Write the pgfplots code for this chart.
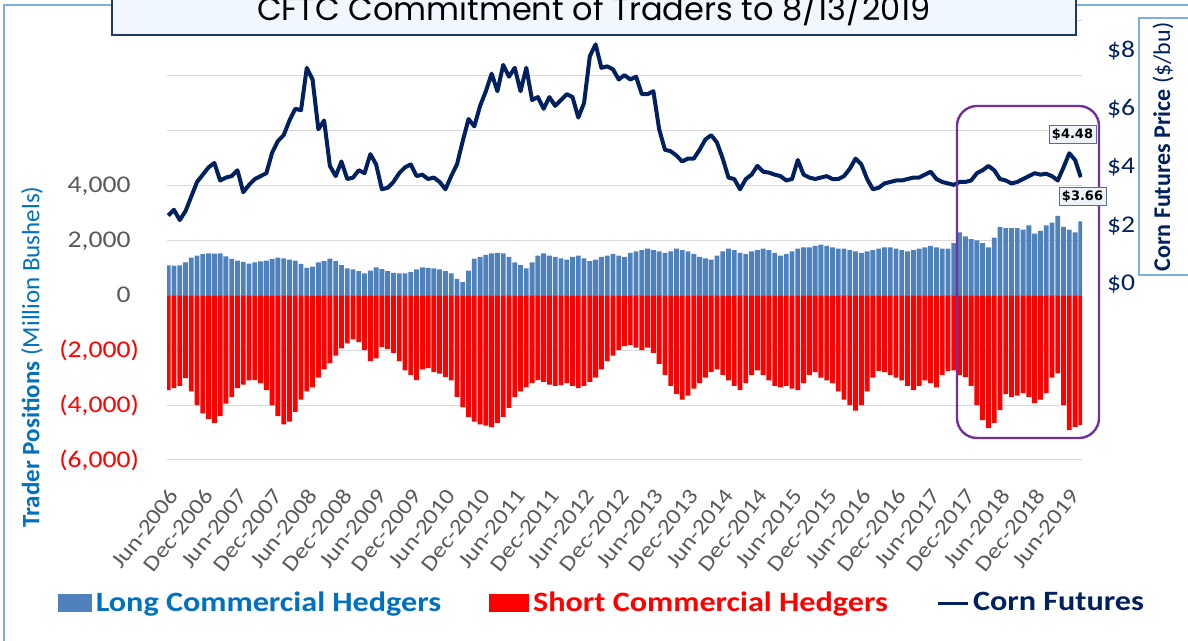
\documentclass[border=0pt]{standalone}
\usepackage{fontspec}
\usepackage{pgfplots}
\pgfplotsset{compat=1.18}
\usepackage{pgfplotstable}
\setmainfont{Carlito}[FakeStretch=1.15]
\newfontfamily\rotfont{Carlito}
\newfontfamily\titlefont{Poppins}
\newfontfamily\notefont{DejaVu Sans}
\definecolor{longblue}{HTML}{4F81BD}
\definecolor{shortred}{HTML}{FF0000}
\definecolor{cornnavy}{HTML}{002060}
\definecolor{legblue}{HTML}{0070C0}
\definecolor{ticgray}{HTML}{595959}
\definecolor{gridgray}{HTML}{D9D9D9}
\definecolor{framblue}{HTML}{7FAEDC}
\definecolor{boxpurple}{HTML}{7030A0}
\definecolor{titlefill}{HTML}{F0F7FF}
\definecolor{titledraw}{HTML}{1F3864}
\definecolor{notefill}{HTML}{EEF3FA}
\definecolor{notedraw}{HTML}{5A6E8C}

% m = months since Jun-2006; long/short in million bushels; price in $/bu
\pgfplotstableread{
m long short price
0 1090 -3450 2.35
1 1080 -3380 2.55
2 1090 -3300 2.20
3 1200 -3020 2.50
4 1380 -3500 3.00
5 1450 -4000 3.50
6 1500 -4300 3.75
7 1530 -4500 4.00
8 1520 -4650 4.15
9 1530 -4400 3.55
10 1420 -3950 3.65
11 1330 -3700 3.70
12 1270 -3380 3.90
13 1220 -3250 3.15
14 1160 -3100 3.40
15 1200 -3090 3.60
16 1240 -3200 3.70
17 1270 -3450 3.80
18 1330 -4000 4.50
19 1380 -4400 4.90
20 1350 -4700 5.10
21 1300 -4600 5.60
22 1270 -4250 6.00
23 1150 -3800 5.95
24 1000 -3500 7.40
25 1050 -3350 7.00
26 1200 -3000 5.30
27 1250 -2700 5.60
28 1340 -2470 4.05
29 1250 -2200 3.70
30 1100 -1930 4.20
31 980 -1750 3.60
32 950 -1600 3.65
33 880 -1700 3.90
34 800 -2000 3.80
35 900 -2400 4.45
36 1020 -2300 4.10
37 960 -1890 3.25
38 880 -1950 3.30
39 820 -2100 3.50
40 800 -2400 3.80
41 800 -2730 4.00
42 850 -2900 4.10
43 950 -3090 3.70
44 1020 -2700 3.75
45 1000 -2650 3.60
46 980 -2800 3.65
47 950 -2850 3.50
48 880 -2980 3.25
49 800 -3100 3.70
50 600 -3700 4.10
51 480 -4070 4.90
52 900 -4430 5.65
53 1340 -4600 5.40
54 1400 -4700 6.10
55 1480 -4750 6.60
56 1530 -4800 7.20
57 1550 -4650 6.60
58 1530 -4430 7.50
59 1400 -4100 7.10
60 1200 -3710 7.40
61 1100 -3500 6.60
62 980 -3350 7.40
63 1200 -3200 6.30
64 1450 -3090 6.40
65 1530 -3150 6.00
66 1450 -3250 6.40
67 1400 -3300 6.10
68 1350 -3270 6.30
69 1300 -3200 6.50
70 1400 -3300 6.40
71 1450 -3380 5.70
72 1350 -3300 6.20
73 1250 -3150 7.80
74 1300 -3000 8.20
75 1400 -2700 7.40
76 1450 -2400 7.45
77 1500 -2200 7.35
78 1450 -2000 7.00
79 1400 -1850 7.15
80 1550 -1800 7.00
81 1600 -1900 7.10
82 1650 -2000 6.50
83 1700 -1900 6.50
84 1650 -2100 6.60
85 1600 -2500 5.30
86 1550 -2900 4.60
87 1600 -3300 4.55
88 1700 -3600 4.40
89 1650 -3800 4.20
90 1600 -3650 4.30
91 1500 -3400 4.30
92 1400 -3200 4.60
93 1350 -3000 4.95
94 1300 -2800 5.10
95 1450 -2700 4.85
96 1600 -2900 4.30
97 1700 -3100 3.65
98 1650 -3300 3.60
99 1550 -3450 3.25
100 1500 -3200 3.60
101 1600 -2900 3.75
102 1650 -2730 4.05
103 1700 -2900 3.85
104 1650 -3100 3.82
105 1550 -3300 3.75
106 1450 -3350 3.70
107 1500 -3300 3.55
108 1600 -3400 3.60
109 1700 -3450 4.25
110 1750 -3200 3.75
111 1750 -2900 3.65
112 1800 -2800 3.60
113 1850 -3000 3.65
114 1800 -3100 3.70
115 1750 -3200 3.60
116 1700 -3500 3.60
117 1700 -3800 3.70
118 1650 -4000 3.95
119 1600 -4200 4.30
120 1550 -4000 4.10
121 1600 -3500 3.60
122 1650 -3000 3.25
123 1700 -2750 3.30
124 1750 -2800 3.45
125 1750 -2900 3.50
126 1700 -3000 3.55
127 1650 -3100 3.55
128 1600 -3300 3.60
129 1650 -3450 3.65
130 1700 -3300 3.65
131 1750 -3100 3.75
132 1800 -3200 3.85
133 1750 -3350 3.60
134 1700 -2900 3.50
135 1700 -2750 3.45
136 1900 -2730 3.40
137 2300 -2900 3.50
138 2150 -2980 3.50
139 2050 -3300 3.55
140 2000 -4000 3.80
141 1900 -4550 3.90
142 1750 -4840 4.05
143 2100 -4650 3.90
144 2500 -4180 3.60
145 2450 -3600 3.55
146 2450 -3700 3.45
147 2450 -3650 3.50
148 2400 -3560 3.60
149 2550 -3700 3.70
150 2250 -3930 3.80
151 2350 -3800 3.75
152 2550 -3560 3.78
153 2650 -3000 3.70
154 2900 -2840 3.55
155 2500 -4000 4.00
156 2400 -4910 4.48
157 2300 -4800 4.25
158 2700 -4730 3.66
}\cot

\begin{document}
\begin{tikzpicture}
\path[use as bounding box] (0,0) rectangle (594pt,320.5pt);
% outer chart frame (only the left and top edges are in view)
\draw[framblue, line width=1pt] (2pt,-5pt) -- (2pt,318pt) -- (60pt,318pt);
\draw[framblue, line width=1pt] (530pt,318pt) -- (600pt,318pt);

\begin{axis}[
  at={(83.5pt,90.5pt)}, anchor=south west,
  width=457.5pt, height=219.5pt, scale only axis,
  xmin=-0.2, xmax=158.2, ymin=-6000, ymax=10000,
  axis line style={draw=none},
  major tick length=0pt,
  ytick={-6000,-4000,...,10000},
  yticklabels={{\textcolor{shortred}{(6,000)}},{\textcolor{shortred}{(4,000)}},{\textcolor{shortred}{(2,000)}},{0\phantom{)}},{2,000\phantom{)}},{4,000\phantom{)}},{},{},{}},
  ymajorgrids, grid style={gridgray, line width=0.5pt},
  xtick={0,6,...,156},
  xticklabels={Jun-2006,Dec-2006,Jun-2007,Dec-2007,Jun-2008,Dec-2008,Jun-2009,Dec-2009,Jun-2010,Dec-2010,Jun-2011,Dec-2011,Jun-2012,Dec-2012,Jun-2013,Dec-2013,Jun-2014,Dec-2014,Jun-2015,Dec-2015,Jun-2016,Dec-2016,Jun-2017,Dec-2017,Jun-2018,Dec-2018,Jun-2019},
  xticklabel style={xshift=5pt, yshift=-13pt, rotate=52, anchor=east, text=ticgray, font=\fontsize{11}{12}\selectfont},
  yticklabel style={anchor=east, text width=45pt, align=right, xshift=-10.5pt, text=ticgray, font=\fontsize{12}{12}\selectfont},
]
\addplot[ybar, bar width=0.84, bar shift=0pt, fill=longblue, draw=none] table[x=m, y=long] {\cot};
\addplot[ybar, bar width=0.84, bar shift=0pt, fill=shortred, draw=none] table[x=m, y=short] {\cot};
\end{axis}

\begin{axis}[
  at={(83.5pt,90.5pt)}, anchor=south west,
  width=457.5pt, height=219.5pt, scale only axis,
  xmin=-0.2, xmax=158.2, ymin=-6, ymax=9,
  hide x axis, axis y line*=right,
  axis line style={draw=none}, major tick length=0pt,
  ytick={0,2,4,6,8}, yticklabels={\$0,\$2,\$4,\$6,\$8},
  yticklabel style={anchor=west, xshift=9pt, text=cornnavy, font=\fontsize{12}{12}\selectfont},
  legend columns=3,
  legend style={at={(0.4765,-0.326)}, anchor=center, draw=none, fill=none,
    font=\bfseries\fontsize{14}{14}\selectfont,
    /tikz/every even column/.append style={column sep=22pt}},
]
\addlegendimage{legend image code/.code={\fill[longblue] (0pt,-4.25pt) rectangle (16.5pt,4.25pt);}}
\addlegendentry{\textcolor{legblue}{Long Commercial Hedgers}}
\addlegendimage{legend image code/.code={\fill[shortred] (0pt,-4.25pt) rectangle (19.5pt,4.25pt);}}
\addlegendentry{\textcolor{shortred}{Short Commercial Hedgers}}
\addplot[cornnavy, line width=2pt, line join=round,
  legend image code/.code={\draw[cornnavy, line width=1.5pt] (0pt,0pt) -- (15pt,0pt);}]
  table[x=m, y=price] {\cot};
\addlegendentry{\textcolor{cornnavy}{Corn Futures}}
\end{axis}

% title box
\draw[titledraw, fill=titlefill, line width=1.2pt] (56pt,303pt) rectangle (538pt,335pt);
\node[anchor=base, font=\titlefont\fontsize{16}{16}\selectfont] at (297pt,310pt) {CFTC Commitment of Traders to 8/13/2019};

% axis titles
\node[rotate=90, text=legblue, font=\rotfont\fontsize{12.5}{13}\selectfont] at (16pt,142pt) {\textbf{Trader Positions} (Million Bushels)};
\draw[framblue, fill=white, line width=0.8pt] (569.5pt,183pt) rectangle (605pt,311.5pt);
\node[rotate=90, text=cornnavy, font=\rotfont\fontsize{12}{12}\selectfont] at (581.5pt,247pt) {\textbf{Corn Futures Price} (\$/bu)};

% highlight of the last two years
\draw[boxpurple, line width=1.2pt, rounded corners=10pt] (478.5pt,101.5pt) rectangle (549.5pt,267.5pt);
\node[draw=notedraw, fill=notefill, inner sep=1.5pt, font=\notefont\bfseries\fontsize{6.5}{7}\selectfont] at (536.25pt,253.25pt) {\$4.48};
\node[draw=notedraw, fill=notefill, inner sep=1.5pt, font=\notefont\bfseries\fontsize{6.5}{7}\selectfont] at (541.25pt,222.25pt) {\$3.66};
\end{tikzpicture}
\end{document}
